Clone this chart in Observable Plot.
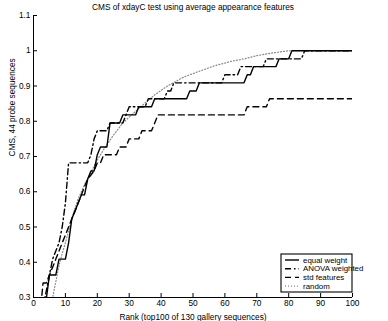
<!DOCTYPE html>
<html><head><meta charset="utf-8">
<script src="https://cdn.jsdelivr.net/npm/d3@7"></script>
<script src="https://cdn.jsdelivr.net/npm/@observablehq/plot@0.6"></script>
<style>body{margin:0;background:#fff}svg{display:block}</style>
</head><body><div id="chart"></div>
<script>
const titleText = "CMS of xdayC test using average appearance features";
const xLabel = "Rank (top100 of 130 gallery sequences)";
const yLabel = "CMS, 44 probe sequences";
const xTicks = [0, 10, 20, 30, 40, 50, 60, 70, 80, 90, 100];
const yTicks = [0.3, 0.4, 0.5, 0.6, 0.7, 0.8, 0.9, 1.0, 1.1];
const seriesNames = ["equal weight", "ANOVA weighted", "std features", "random"];

// equal weight (solid)
const equalRank = [4, 5, 7, 8, 10, 11, 12, 13, 14, 15, 16, 17, 18, 19, 20, 21, 23, 24, 27, 28, 32, 33, 37, 38, 48, 49, 51, 52, 66, 67, 68, 69, 76, 77, 80, 81, 100];
const equalCMS = [0.295, 0.364, 0.364, 0.409, 0.409, 0.455, 0.523, 0.545, 0.568, 0.591, 0.591, 0.636, 0.659, 0.659, 0.705, 0.727, 0.727, 0.795, 0.795, 0.818, 0.818, 0.841, 0.841, 0.864, 0.864, 0.886, 0.886, 0.909, 0.909, 0.932, 0.932, 0.955, 0.955, 0.977, 0.977, 1.0, 1.0];

// ANOVA weighted (dash-dot)
const anovaRank = [3, 4, 5, 6, 7, 8, 9, 10, 11, 17, 18, 19, 20, 23, 24, 28, 29, 30, 34, 35, 36, 41, 42, 43, 44, 59, 60, 64, 65, 72, 73, 84, 85, 100];
const anovaCMS = [0.273, 0.318, 0.364, 0.409, 0.432, 0.455, 0.5, 0.568, 0.682, 0.682, 0.705, 0.75, 0.773, 0.773, 0.795, 0.795, 0.818, 0.841, 0.841, 0.841, 0.864, 0.864, 0.886, 0.886, 0.909, 0.909, 0.932, 0.932, 0.955, 0.955, 0.977, 0.977, 1.0, 1.0];

// std features (dashed)
const stdRank = [2, 3, 4, 5, 6, 7, 8, 9, 10, 11, 12, 13, 14, 15, 16, 17, 19, 20, 21, 22, 26, 27, 29, 30, 33, 34, 37, 38, 39, 66, 67, 73, 74, 100];
const stdCMS = [0.25, 0.341, 0.341, 0.364, 0.386, 0.409, 0.432, 0.455, 0.477, 0.5, 0.523, 0.545, 0.568, 0.591, 0.614, 0.636, 0.659, 0.682, 0.682, 0.705, 0.705, 0.727, 0.727, 0.75, 0.75, 0.773, 0.773, 0.795, 0.818, 0.818, 0.841, 0.841, 0.864, 0.864];

// random (dotted)
const randomRank = [5, 6, 7, 8, 9, 10, 12, 14, 16, 18, 20, 22, 25, 28, 31, 35, 38, 42, 47, 52, 57, 62, 66, 70, 75, 80, 90, 100];
const randomCMS = [0.28, 0.30, 0.345, 0.39, 0.425, 0.455, 0.525, 0.58, 0.62, 0.655, 0.69, 0.72, 0.76, 0.795, 0.82, 0.852, 0.875, 0.9, 0.925, 0.942, 0.958, 0.97, 0.977, 0.986, 0.994, 1.0, 1.0, 1.0];

const styles = [
  {stroke: "#000", dash: null, width: 1.4},
  {stroke: "#000", dash: "6,3,1.5,3", width: 1.4},
  {stroke: "#000", dash: "6,4", width: 1.4},
  {stroke: "#888", dash: "1,2", width: 1.2}
];
const toRows = (r, v) => r.map((d, i) => ({rank: d, cms: v[i]}));
const series = [toRows(equalRank, equalCMS), toRows(anovaRank, anovaCMS), toRows(stdRank, stdCMS), toRows(randomRank, randomCMS)];

const fmt = d => d3.format("~g")(+d.toFixed(2));
const font = "Liberation Sans, Arial, Helvetica, sans-serif";

const chart = Plot.plot({
  width: 388, height: 321,
  marginLeft: 33, marginRight: 36, marginTop: 15, marginBottom: 24,
  style: {fontFamily: font, fontSize: "8.3px", background: "#fff", color: "#000"},
  x: {domain: [0, 100], ticks: xTicks, tickFormat: fmt},
  y: {domain: [0.3, 1.1], ticks: yTicks, tickFormat: fmt},
  marks: [
    ...[3, 2, 1, 0].map(i => Plot.line(series[i], {
      x: "rank", y: "cms", stroke: styles[i].stroke, strokeWidth: styles[i].width,
      strokeDasharray: styles[i].dash, clip: true
    })),
    Plot.ruleX([0], {stroke: "#000"}),
    Plot.ruleY([0.3], {stroke: "#000"}),
    Plot.axisX({ticks: xTicks, tickFormat: fmt, tickSize: -4, tickPadding: 7, label: null}),
    Plot.axisY({ticks: yTicks, tickFormat: fmt, tickSize: -4, tickPadding: 7, label: null}),
    Plot.text([titleText], {frameAnchor: "top", dy: -11, fontSize: 8.3}),
    Plot.text([xLabel], {frameAnchor: "bottom", dy: 22, fontSize: 8.3}),
    Plot.text([yLabel], {frameAnchor: "left", dx: -21, rotate: -90, fontSize: 8.3})
  ]
});

// legend box (bottom right)
const svg = d3.select(chart);
const lx = 281, ly = 254, lw = 71, lh = 38;
const g = svg.append("g").attr("font-family", font).attr("font-size", 7.9).attr("text-anchor", "start");
g.append("rect").attr("x", lx).attr("y", ly).attr("width", lw).attr("height", lh)
  .attr("fill", "#fff").attr("stroke", "#000").attr("stroke-width", 1.1);
seriesNames.forEach((name, i) => {
  const yy = ly + 6 + i * 8.7;
  g.append("line").attr("x1", lx + 4).attr("x2", lx + 18).attr("y1", yy).attr("y2", yy)
    .attr("stroke", styles[i].stroke).attr("stroke-width", styles[i].width)
    .attr("stroke-dasharray", styles[i].dash);
  g.append("text").attr("x", lx + 22).attr("y", yy).attr("dy", "0.32em").attr("text-anchor", "start").text(name);
});
document.getElementById("chart").append(chart);
</script>
</body></html>
